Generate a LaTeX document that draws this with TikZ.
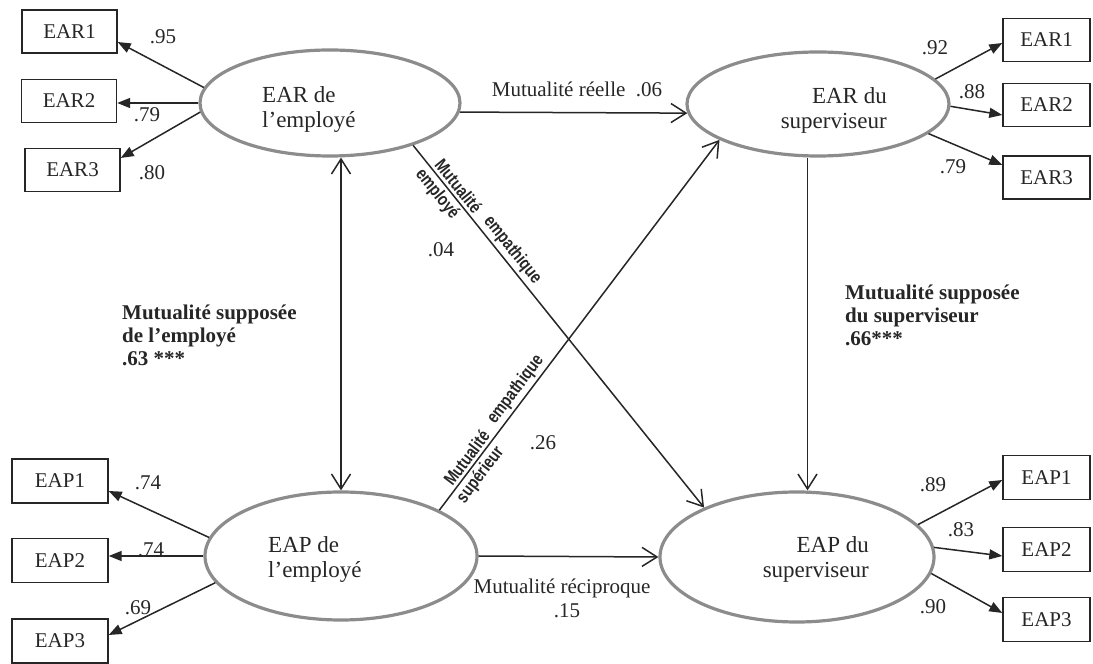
\documentclass[tikz,border=0pt]{standalone}
\usepackage{fontspec}
\setmainfont{Liberation Serif}
\newfontfamily\diagfont[FakeStretch=0.8]{Liberation Sans}
\usetikzlibrary{arrows.meta,calc,shapes.geometric}
\begin{document}
\begin{tikzpicture}[x=1pt,y=1pt,
  every node/.style={font=\fontsize{21}{24}\selectfont, text=black!85},
  lat/.style={draw=black!45, line width=3.2pt, ellipse, inner sep=0pt},
  obs/.style={draw=black!85, line width=1.4pt, rectangle, minimum height=43pt, inner sep=0pt},
  obsl/.style={obs, minimum width=95pt},
  obsr/.style={obs, minimum width=87pt},
  load/.style={draw=black!85, line width=1.5pt, -{Triangle[length=13pt,width=10pt]}},
  struct/.style={draw=black!85, line width=1.5pt, -{Straight Barb[length=15pt,width=19pt]}},
  num/.style={inner sep=0pt},
  lattext/.style={font=\fontsize{23}{25}\selectfont, inner sep=0pt},
  diag/.style={font=\diagfont\bfseries\fontsize{18}{20}\selectfont, sloped, inner sep=2.5pt},
  boldlab/.style={font=\bfseries\fontsize{21}{23}\selectfont, align=left, inner sep=0pt, anchor=west}
]
\useasboundingbox (0,0) rectangle (1093,664);

% latent variables
\node[lat, minimum width=260pt, minimum height=106pt] (A) at (330,561) {};
\node[lat, minimum width=262pt, minimum height=104pt] (B) at (818,560) {};
\node[lat, minimum width=272pt, minimum height=128pt] (C) at (341,108) {};
\node[lat, minimum width=274pt, minimum height=130pt] (D) at (797,107) {};

\node[lattext, anchor=west, align=left] (At) at (262,554) {EAR de\\l’employé};
\node[lattext, anchor=east, align=right] (Bt) at (887,554) {EAR du\\superviseur};
\node[lattext, anchor=west, align=left] (Ct) at (268,104.5) {EAP de\\l’employé};
\node[lattext, anchor=east, align=right] (Dt) at (869,104.5) {EAP du\\superviseur};

% observed boxes
\node[obsl] (ear1l) at (69.5,632.5) {EAR1};
\node[obsl] (ear2l) at (69,563) {EAR2};
\node[obsl] (ear3l) at (72.5,494) {EAR3};
\node[obsr] (ear1r) at (1046.5,624) {EAR1};
\node[obsr] (ear2r) at (1046.5,559) {EAR2};
\node[obsr] (ear3r) at (1046.5,486.5) {EAR3};
\node[obsl, minimum width=96pt, minimum height=44pt] (eap1l) at (60,183) {EAP1};
\node[obsl, minimum width=96pt, minimum height=44pt] (eap2l) at (60,103.5) {EAP2};
\node[obsl, minimum width=96pt, minimum height=44pt] (eap3l) at (60,23) {EAP3};
\node[obsr, minimum height=44pt] (eap1r) at (1046.5,186.5) {EAP1};
\node[obsr, minimum height=44pt] (eap2r) at (1046.5,114.5) {EAP2};
\node[obsr, minimum height=44pt] (eap3r) at (1046.5,44.5) {EAP3};

% loadings
\draw[load] (A.173) -- ([yshift=-10.5pt]ear1l.east);
\draw[load] (A.west) -- (A.west -| ear2l.east);
\draw[load] (A.184) -- ([yshift=12pt]ear3l.east);
\draw[load] (B.12) -- ([yshift=-3pt]ear1r.west);
\draw[load] (B.-1) -- ([yshift=-10pt]ear2r.west);
\draw[load] (B.-15) -- ([yshift=12.5pt]ear3r.west);
\draw[load] (C.172) -- ([yshift=-10pt]eap1l.east);
\draw[load] (C.west) -- (C.west -| eap2l.east);
\draw[load] (C.192) -- ([yshift=6pt]eap3l.east);
\draw[load] (D.15) -- ([yshift=-2.5pt]eap1r.west);
\draw[load] (D.4) -- ([yshift=-6.5pt]eap2r.west);
\draw[load] (D.-7) -- ([yshift=6.5pt]eap3r.west);

\node[num] (l1) at (163,627) {.95};
\node[num] (l2) at (147,549) {.79};
\node[num] (l3) at (152,491) {.80};
\node[num] (l4) at (935,616) {.92};
\node[num] (l5) at (972,572) {.88};
\node[num] (l6) at (953,497) {.79};
\node[num] (l7) at (148,181) {.74};
\node[num] (l8) at (151,114) {.74};
\node[num] (l9) at (138,56) {.69};
\node[num] (l10) at (933,179) {.89};
\node[num] (l11) at (961,134) {.83};
\node[num] (l12) at (933,57) {.90};

% structural paths
\draw[struct] (A.-4) -- (B.184);
\draw[struct] (C.east) -- (D.west);
\draw[struct, {Straight Barb[length=15pt,width=19pt]}-{Straight Barb[length=15pt,width=19pt]}] (C.north |- A.south) -- (C.north);
\coordinate (mBD) at ($(B.south)!0.5!(D.north)$);
\draw[struct] (mBD |- B.south) -- (mBD |- D.north);

\draw[struct] (A.-27) -- (D.152)
  node[diag, above, pos=0.13] (d1a) {Mutualité}
  node[diag, above, pos=0.31] (d1b) {empathique}
  node[diag, below, pos=0.114] (d1c) {employé};
\draw[struct] (C.25) -- (B.200)
  node[diag, above, pos=0.125] (d2a) {Mutualité}
  node[diag, above, pos=0.306] (d2b) {empathique}
  node[diag, below, pos=0.114] (d2c) {supérieur};

\node[num] (t1) at (577,575) {Mutualité réelle\ \ .06};
\node[num] (t2) at (562,76) {Mutualité réciproque};
\node[num] (t3) at (567,53) {.15};
\node[num] (t4) at (441,414) {.04};
\node[num] (t5) at (543,221) {.26};

\node[boldlab] (s1) at (122,329) {Mutualité supposée\\de l’employé\\.63 ***};
\node[boldlab] (s2) at (845,349) {Mutualité supposée\\du superviseur\\.66***};
\end{tikzpicture}
\end{document}
